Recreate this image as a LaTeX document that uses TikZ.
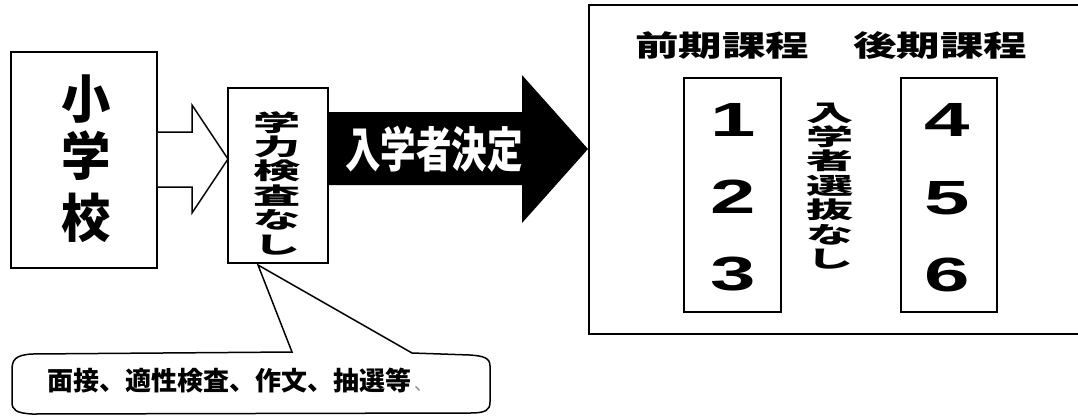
\documentclass[tikz,border=0pt]{standalone}
\usepackage{fontspec}
\setmainfont{Liberation Sans}
\newfontfamily\jp{Noto Sans CJK JP}
\newcommand{\sx}[2]{\scalebox{#1}[1]{#2}}
\newcommand{\fs}[1]{\fontsize{#1}{#1}\selectfont}
\tikzset{
  box/.style={draw=black, line width=1.8pt, fill=white, inner sep=0pt},
  jptxt/.style={inner sep=0pt, font=\jp\bfseries},
  num/.style={inner sep=0pt, font=\bfseries\fs{48}},
  vstack/.style={inner sep=0pt, align=center, font=\jp\bfseries\fontsize{23}{24.4}\selectfont},
}
\begin{document}
\begin{tikzpicture}[x=1pt,y=-1pt]
\useasboundingbox (0,0) rectangle (1078,416);

% callout (drawn first)
\coordinate (tip) at (258,265);
\draw[line width=1.5pt, fill=white] (tip) -- (292,352) -- (32,354)
  .. controls (15,355) and (12,360) .. (12,370) -- (12,402)
  .. controls (12,410) and (16,413) .. (32,414) -- (470,413)
  .. controls (486,413) and (490,410) .. (490,402) -- (490,366)
  .. controls (490,358) and (484,356) .. (470,355) -- (412,353) -- cycle;
\node[jptxt, anchor=west, font=\jp\bfseries\fs{26}] (cond) at (47,381) {面接、適性検査、作文、抽選等};
\node[inner sep=0pt, anchor=west, text=black!45, font=\jp\fs{18}] (comma) at (414,389) {、};

% left box
\node[box, minimum width=146pt, minimum height=216pt] (sho) at (84,160) {};
\node[jptxt, font=\jp\bfseries\fs{52}] (c1) at (86,99) {\sx{0.95}{小}};
\node[jptxt, font=\jp\bfseries\fs{52}] (c2) at (86,156) {\sx{0.95}{学}};
\node[jptxt, font=\jp\bfseries\fs{52}] (c3) at (86,218) {\sx{0.95}{校}};

% hollow arrow
\draw[line width=1.5pt, fill=white] (sho.east |- 0,132) -- (192,132) -- (192,105) -- (228,159) -- (192,213) -- (192,187) -- (sho.east |- 0,187);

% middle box
\node[box, minimum width=100pt, minimum height=175pt] (mid) at (278,175.5) {};
\node[vstack] (midtxt) at (277,183) {\sx{2.05}{学}\\\sx{2.05}{力}\\\sx{2.05}{検}\\\sx{2.05}{査}\\\sx{2.05}{な}\\\sx{2.05}{し}};

% black arrow
\fill[black] (mid.east |- 0,112) -- (522,112) -- (522,75) -- (588,149) -- (522,223) -- (522,185) -- (mid.east |- 0,185) -- cycle;
\node[jptxt, text=white, font=\jp\bfseries\fs{48}] (kettei) at (434,149) {\sx{0.74}{入学者決定}};

% right big box (open on the right, beyond the page)
\draw[line width=1.8pt] (1078,5) -- (589,5) coordinate (rb) -- (589,334) -- (1078,334);

\node[jptxt, font=\jp\bfseries\fs{29}] (zenki) at (722,45) {\sx{1.5}{前期課程}};
\node[jptxt, font=\jp\bfseries\fs{29}] (kouki) at (940,45) {\sx{1.5}{後期課程}};

\node[box, minimum width=97pt, minimum height=234pt] (lb) at (732.5,195) {};
\node[box, minimum width=96pt, minimum height=234pt] (rb2) at (949,195) {};

\node[num] (n1) at (733,120) {\sx{1.7}{1}};
\node[num] (n2) at (733,197) {\sx{1.7}{2}};
\node[num] (n3) at (733,274) {\sx{1.7}{3}};
\node[num] (n4) at (947,120) {\sx{1.7}{4}};
\node[num] (n5) at (947,198) {\sx{1.7}{5}};
\node[num] (n6) at (947,275) {\sx{1.7}{6}};

\node[vstack] (nosel) at (830,186) {\sx{2.05}{入}\\\sx{2.05}{学}\\\sx{2.05}{者}\\\sx{2.05}{選}\\\sx{2.05}{抜}\\\sx{2.05}{な}\\\sx{2.05}{し}};
\end{tikzpicture}
\end{document}
